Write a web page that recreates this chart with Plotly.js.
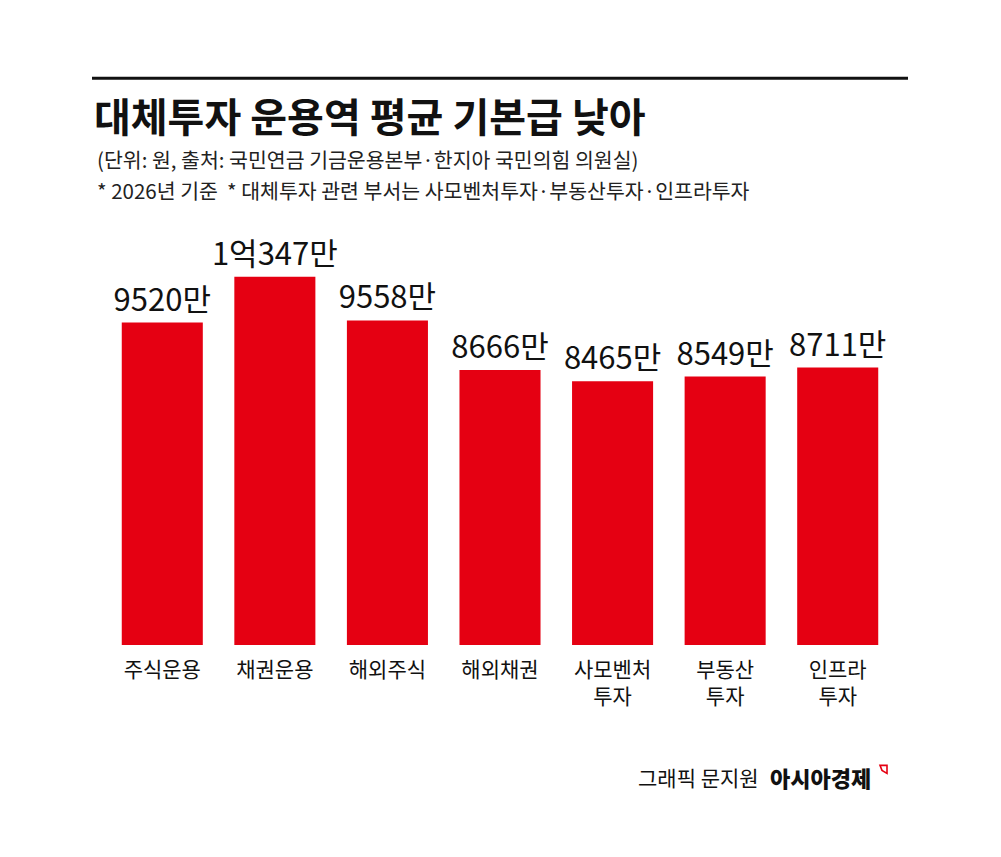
<!DOCTYPE html>
<html>
<head>
<meta charset="utf-8">
<script src="https://cdn.plot.ly/plotly-3.0.1.min.js"></script>
<style>
  html, body { margin:0; padding:0; background:#fff; }
  #chart { width:1001px; height:857px; }
</style>
</head>
<body>
<div id="chart"></div>
<script>
// 데이터 (단위: 만원)
const categories = ['주식운용', '채권운용', '해외주식', '해외채권', '사모벤처<br>투자', '부동산<br>투자', '인프라<br>투자'];
const salaries = [9520, 10347, 9558, 8666, 8465, 8549, 8711];
const valueLabels = ['9520만', '1억347만', '9558만', '8666만', '8465만', '8549만', '8711만'];

const FONT = '"Noto Sans CJK KR", "Noto Sans", sans-serif';
const RED = '#e50012';

// plot area in pixels
const L = 106, R = 894, T = 230, B = 645.5;
const px2x = px => (px - L) / (R - L);
const px2y = py => (B - py) / (B - T);

const trace = {
  type: 'bar',
  x: categories,
  y: salaries,
  text: valueLabels,
  textposition: 'outside',
  constraintext: 'none',
  cliponaxis: false,
  textfont: {family: FONT, size: 31, color: '#111', weight: 400},
  marker: {color: RED, line: {width: 0}},
  width: 0.72,
  hoverinfo: 'x+y'
};

const layout = {
  width: 1001, height: 857,
  margin: {l: L, r: 1001 - R, t: T, b: 857 - B},
  paper_bgcolor: '#fff',
  plot_bgcolor: '#fff',
  showlegend: false,
  font: {family: FONT, color: '#111'},
  title: {
    text: '대체투자 운용역 평균 기본급 낮아',
    font: {family: FONT, size: 40, weight: 700, color: '#111'},
    xref: 'container', yref: 'container',
    x: 94 / 1001, y: 1 - 118 / 857,
    xanchor: 'left', yanchor: 'middle'
  },
  xaxis: {
    type: 'category',
    showgrid: false, zeroline: false, showline: false,
    ticks: '', ticklen: 0,
    ticklabelstandoff: 10,
    tickfont: {family: FONT, size: 21, color: '#111'},
    fixedrange: true
  },
  yaxis: {
    range: [3714, 3714 + (B - T) / 0.0556],
    visible: false,
    fixedrange: true
  },
  shapes: [
    // 상단 검은 선
    {type: 'line', xref: 'paper', yref: 'paper',
     x0: px2x(92), x1: px2x(908), y0: px2y(78), y1: px2y(78),
     line: {color: '#111', width: 3}},
    // 로고 아이콘
    {type: 'path', xref: 'paper', yref: 'paper',
     path: 'M ' + px2x(880) + ' ' + px2y(766) + ' L ' + px2x(887) + ' ' + px2y(766) +
           ' L ' + px2x(887) + ' ' + px2y(774) + ' L ' + px2x(882) + ' ' + px2y(771) + ' Z',
     line: {color: RED, width: 1.6}, fillcolor: 'rgba(0,0,0,0)'}
  ],
  annotations: [
    {text: '(단위: 원, 출처: 국민연금 기금운용본부·한지아 국민의힘 의원실)',
     xref: 'paper', yref: 'paper', x: px2x(95), y: px2y(159),
     xanchor: 'left', yanchor: 'middle', showarrow: false,
     font: {family: FONT, size: 20.5, color: '#222'}},
    {text: '* 2026년 기준  * 대체투자 관련 부서는 사모벤처투자·부동산투자·인프라투자',
     xref: 'paper', yref: 'paper', x: px2x(95), y: px2y(190),
     xanchor: 'left', yanchor: 'middle', showarrow: false,
     font: {family: FONT, size: 20.5, color: '#222'}},
    {text: '그래픽 문지원',
     xref: 'paper', yref: 'paper', x: px2x(761), y: px2y(778),
     xanchor: 'right', yanchor: 'middle', showarrow: false,
     font: {family: FONT, size: 21, color: '#111'}},
    {text: '아시아경제',
     xref: 'paper', yref: 'paper', x: px2x(768), y: px2y(778),
     xanchor: 'left', yanchor: 'middle', showarrow: false,
     font: {family: FONT, size: 22, weight: 800, color: '#111'}}
  ]
};

Plotly.newPlot('chart', [trace], layout, {displayModeBar: false, staticPlot: true});
</script>
</body>
</html>
